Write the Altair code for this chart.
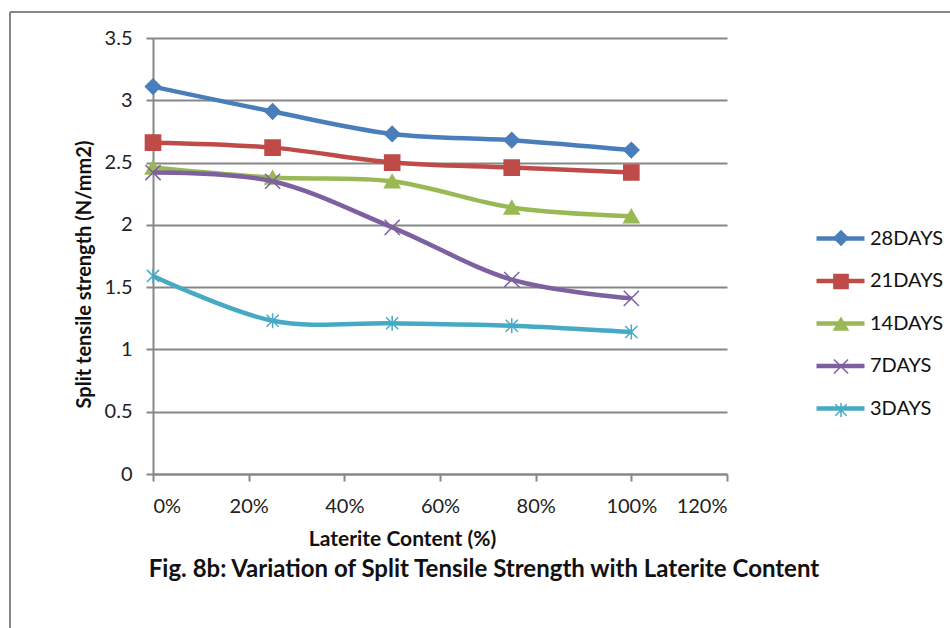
import altair as alt
import pandas as pd

# ---- data ----
x_vals = [0.0, 0.25, 0.5, 0.75, 1.0]
series_names = ["28DAYS", "21DAYS", "14DAYS", "7DAYS", "3DAYS"]
d28 = [3.11, 2.91, 2.73, 2.68, 2.60]
d21 = [2.66, 2.62, 2.50, 2.46, 2.42]
d14 = [2.46, 2.38, 2.35, 2.14, 2.07]
d7 = [2.42, 2.35, 1.98, 1.56, 1.41]
d3 = [1.59, 1.23, 1.21, 1.19, 1.14]
y_ticks = [0, 0.5, 1, 1.5, 2, 2.5, 3, 3.5]
x_ticks = [0, 0.2, 0.4, 0.6, 0.8, 1.0, 1.2]

colors = ["#4A7EBB", "#BE4B48", "#98B954", "#7D60A0", "#46AAC5"]
X_PATH = "M-1,-1L1,1M-1,1L1,-1"
AST_PATH = "M0,-1L0,1M-0.8,-0.8L0.8,0.8M-0.8,0.8L0.8,-0.8"
shapes = ["diamond", "square", "triangle-up", X_PATH, AST_PATH]

FIG_TITLE = "Fig. 8b: Variation of Split Tensile Strength with Laterite Content"
FONT = "Lato"
GRAY = "#878787"

# marker keys are kept distinct from line keys so the two legends stay separate
marker_names = [n + "_m" for n in series_names]

rows = []
for name, mname, vals in zip(series_names, marker_names, [d28, d21, d14, d7, d3]):
    for xv, yv in zip(x_vals, vals):
        rows.append({"series": name, "s2": mname, "x": xv, "y": yv})
df = pd.DataFrame(rows)

W, H = 574, 436

x_enc = alt.X(
    "x:Q",
    scale=alt.Scale(domain=[0, 1.2], nice=False, zero=False),
    axis=alt.Axis(
        values=x_ticks, format=".0%", grid=False, title="Laterite Content (%)",
        labelFontSize=20, labelFont=FONT, labelColor="#222", labelPadding=15,
        tickSize=7, tickColor=GRAY, tickWidth=2, domainColor=GRAY, domainWidth=2,
        titleFont=FONT, titleFontSize=21, titleFontWeight="bold", titleColor="#111",
        titleX=249, titleY=65, titleBaseline="middle", titleAnchor="start",
        titleAlign="center",
    ),
)
y_enc = alt.Y(
    "y:Q",
    scale=alt.Scale(domain=[0, 3.5], nice=False),
    axis=alt.Axis(
        values=y_ticks, format="~g", grid=True, gridColor=GRAY, gridWidth=2,
        title="Split tensile strength (N/mm2)",
        labelFontSize=20, labelFont=FONT, labelColor="#222", labelPadding=14,
        tickSize=7, tickColor=GRAY, tickWidth=2, domainColor=GRAY, domainWidth=2,
        titleFont=FONT, titleFontSize=20, titleFontWeight="bold", titleColor="#111",
        titleX=-69, titleY=236, titleBaseline="middle", titleAngle=270,
        titleAlign="center",
    ),
)

color_scale = alt.Scale(domain=series_names, range=colors)
mcolor_scale = alt.Scale(domain=marker_names, range=colors)
shape_scale = alt.Scale(domain=marker_names, range=shapes)

line_legend = alt.Legend(
    title=None, orient="none", legendX=661, legendY=174, padding=0,
    symbolType="stroke", symbolSize=2304, symbolStrokeWidth=4.5,
    labelFont=FONT, labelFontSize=20, labelColor="#111", labelOffset=3,
    rowPadding=5.5,
)
pt_legend = alt.Legend(
    title=None, orient="none", legendX=678, legendY=190, padding=0,
    symbolSize=200, symbolStrokeWidth=1.5,
    labelFont=FONT, labelFontSize=20, labelExpr="''", labelOffset=0,
    rowPadding=21.5,
)

base = alt.Chart(df)
layers = []
for name in series_names:
    sub = base.transform_filter(alt.datum.series == name)
    line = sub.mark_line(interpolate="cardinal", strokeWidth=4.5).encode(
        x=x_enc, y=y_enc,
        color=alt.Color("series:N", scale=color_scale, legend=line_legend),
    )
    pts = sub.mark_point(size=230, strokeWidth=1.5, opacity=1, fillOpacity=1).encode(
        x=x_enc, y=y_enc,
        fill=alt.Fill("s2:N", scale=mcolor_scale, legend=pt_legend),
        stroke=alt.Stroke("s2:N", scale=mcolor_scale, legend=pt_legend),
        shape=alt.Shape("s2:N", scale=shape_scale, legend=pt_legend),
    )
    layers += [line, pts]

one = alt.Chart(pd.DataFrame({"t": [FIG_TITLE]}))
frame_left = one.mark_rule(color=GRAY, strokeWidth=2).encode(
    x=alt.value(-143), y=alt.value(-26), y2=alt.value(600))
frame_top = one.mark_rule(color=GRAY, strokeWidth=2).encode(
    x=alt.value(-143), x2=alt.value(800), y=alt.value(-26))
title_txt = one.mark_text(
    font=FONT, fontSize=24, fontWeight="bold", color="#111",
    align="center", baseline="middle",
).encode(text="t:N", x=alt.value(331), y=alt.value(532))

chart = alt.layer(frame_left, frame_top, *layers, title_txt).properties(
    width=W, height=H,
    autosize=alt.AutoSizeParams(type="none"),
    padding={"left": 153, "top": 38, "right": 950 - 153 - W, "bottom": 628 - 38 - H},
    background="white",
).configure_view(stroke=None)

chart.save("out.html", embed_options={"renderer": "svg", "actions": False})
